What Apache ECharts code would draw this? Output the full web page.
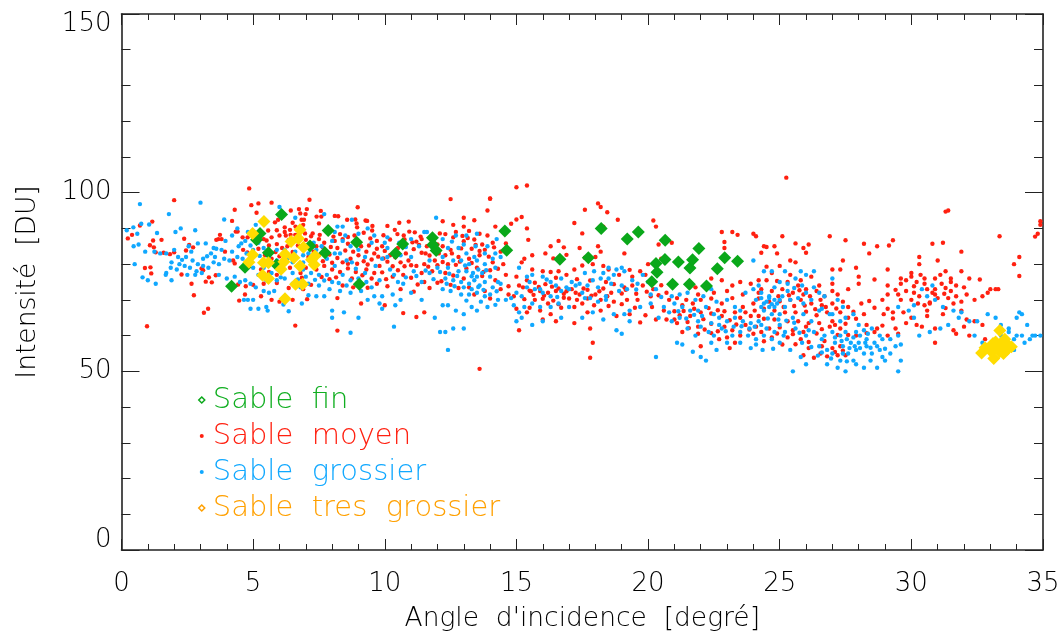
<!DOCTYPE html>
<html><head><meta charset="utf-8">
<script src="https://cdn.jsdelivr.net/npm/echarts@6/dist/echarts.min.js"></script>
<style>html,body{margin:0;padding:0;background:#fff}#c{width:1064px;height:632px}</style></head>
<body><div id="c"></div>
<script>
const sableFin=[[6.08,93.9],[7.85,89.4],[5.26,88.6],[5.13,86.8],[8.93,86.1],[10.68,85.6],[10.41,83.0],[11.81,87.4],[11.83,85.4],[11.95,83.8],[7.16,85.1],[7.73,83.2],[5.58,83.2],[5.89,79.8],[4.69,79.1],[9.03,74.4],[4.18,73.8],[14.56,89.3],[14.63,83.9],[16.65,81.4],[17.73,81.8],[18.22,90.0],[19.21,87],[19.63,89],[20.65,86.7],[20.3,80.2],[20.64,81.3],[20.34,77.7],[20.14,75.1],[21.15,80.6],[20.93,74.4],[21.59,78.9],[21.57,74.4],[21.69,81.2],[21.93,84.4],[22.22,73.9],[22.63,78.7],[22.91,81.8],[23.4,80.8]];
const sableTresGrossier=[[5.41,91.9],[4.98,88.6],[6.78,89.6],[6.72,87.2],[6.44,86.3],[6.91,84.7],[4.98,82.6],[4.84,80.5],[6.21,82.8],[6.17,80.7],[6.55,81.8],[7.35,82.3],[7.22,81.2],[7.32,79.8],[5.39,80.4],[5.58,80.4],[6.78,79.5],[6.06,78.6],[5.36,76.9],[5.58,76],[6.61,74.4],[6.88,74.4],[6.21,70.3],[33.36,61.4],[32.8,56.6],[32.67,55.1],[33.1,57.8],[33.2,58.2],[33.13,53.6],[33.55,59],[33.5,55],[33.8,56.9],[33.25,56.5],[33.1,56],[33.45,57.3],[33.65,56.2],[33.35,55.5],[33.6,57.8],[33.0,55.8]];
const sableMoyen=[[0.24,87.2],[0.4,88.2],[0.7,90.8],[1.17,91.9],[1.2,86.6],[1.52,86.8],[1.08,85.3],[1.23,84.7],[1.3,83.3],[1.6,83.2],[1.84,82.8],[2,83.3],[2.0,97.9],[2.38,87.1],[2.57,85.4],[2.72,84.7],[2.45,83.8],[0.89,78.9],[1.1,79.1],[1.13,77.4],[0.97,62.6],[2.28,77.1],[2.66,74.5],[2.75,71.3],[3.2,75.1],[3.32,76.3],[3.43,74.9],[3.58,76.9],[3.13,66.4],[3.29,67.5],[3.04,78.8],[3.1,78.3],[3.74,88.2],[3.68,87],[3.6,86.8],[3.8,87],[3.93,83.5],[4.24,81],[4.3,80.2],[4.47,69.8],[4.69,71.5],[4.72,73.8],[4.43,74.3],[4.2,92.1],[4.34,89.1],[4.41,89.1],[4.79,87.5],[4.6,87.5],[4.62,84],[4.78,83.3],[4.85,101.2],[4.93,96.5],[5.2,97],[5.7,97.2],[7.14,98],[4.3,95.2],[5.13,94.4],[6.43,95],[6.74,95.4],[7.04,95.4],[6.79,94.2],[6.99,94],[7.57,94.9],[7.41,93.3],[7.59,93.3],[8.1,93.5],[8.23,93.4],[8.97,95.9],[8.57,92.4],[8.88,92.5],[9.27,92.2],[9.33,92.1],[8.93,91.4],[8.95,90.3],[9.53,90.7],[9.52,89.4],[10.1,90.7],[10.55,91.6],[10.91,91.9],[10.38,89.6],[10.48,88.4],[10.72,88],[10.93,89.1],[11.14,88.9],[11.36,87.7],[11.4,87],[11.2,86.3],[12.09,88.6],[11.75,87.7],[5.83,91.7],[5.95,92.4],[6.5,91.6],[6.61,90.5],[6.2,90.3],[6.4,89.6],[6.84,92.4],[6.93,92.4],[6.9,91],[5.57,89.4],[5.51,86.6],[6.2,89],[6.0,88],[6.24,88],[6.42,88.2],[6.6,88.2],[6.97,88.6],[7.26,88.6],[7.53,88.2],[7.79,89.1],[7.5,91.4],[5.4,87],[5.6,85.2],[5.2,84.3],[5.9,85.6],[6.1,84.5],[6.3,85],[7.5,87],[7.7,86],[8.1,86.5],[8.4,87],[8.6,85.7],[8.2,84.5],[8.5,83.8],[8.8,83.5],[9.1,85],[9.4,85.2],[9.7,84.3],[9.9,85],[9.3,83.5],[9.6,83],[10.0,83.7],[10.2,82.5],[10.5,84.5],[10.8,83],[11.1,84.2],[11.4,83.2],[11.6,85],[12.0,85.5],[7.3,83.5],[7.5,82.5],[7.9,82.7],[8.2,81.7],[8.4,80.5],[8.7,81.5],[9.0,82.5],[9.2,80.8],[9.5,81.3],[9.8,79.5],[10.1,80.7],[10.3,79.4],[10.6,80.5],[10.9,81],[11.2,79.5],[11.5,80],[11.9,81],[5.7,81.5],[6.0,82.2],[5.3,78.5],[5.6,77.8],[5.9,77],[6.4,79],[6.8,77.5],[7.0,79],[7.4,78.5],[7.7,79.5],[8.0,78.5],[8.3,77.8],[8.6,78.8],[8.9,77.8],[9.3,78.5],[9.6,77.5],[9.9,77.7],[10.3,76.5],[10.7,77],[11.0,76.2],[11.4,77.5],[11.8,78],[5.0,74.2],[5.4,74.5],[5.9,74.7],[6.35,73.3],[6.9,73],[7.2,74.2],[7.9,75.8],[8.4,74],[8.8,73.5],[9.35,73.4],[9.7,74.5],[10.1,73.8],[10.6,73],[11.1,72.3],[11.5,75],[5.3,71],[5.7,70],[6.0,69.5],[6.5,70],[7.05,70.2],[8.2,70.5],[9.1,69],[10.0,68.5],[10.7,66.3],[11.2,65.2],[11.5,66.5],[6.6,62.8],[8.2,61.4],[12.5,98.2],[13.0,93],[13.4,92.3],[13.9,95],[14.0,98.4],[14.2,90.5],[12.2,92],[12.6,91],[13.0,90.5],[12.7,89],[13.2,89.3],[13.6,88.5],[13.9,88],[12.3,88.4],[12.6,87.5],[13.0,86.4],[13.4,86.9],[13.7,85.5],[14.1,86],[12.2,85],[12.5,84],[12.9,84.4],[13.3,84.3],[13.8,84],[14.6,85.8],[12.3,82.5],[12.8,82],[13.2,81.5],[13.6,82.5],[14.1,80.5],[12.4,80],[12.7,79.8],[13.1,78.8],[13.5,79],[14.0,78.3],[14.5,80],[12.3,77.5],[12.6,76.8],[13.0,76],[13.7,76.7],[14.2,75.5],[12.5,74.2],[13.2,73.5],[13.8,72.5],[14.4,73],[14.7,71.5],[13.6,50.7],[14.6,77],[14.7,73.8],[14.9,71],[15.0,67.5],[15.4,66.5],[15.1,61.5],[15.55,72.4],[15.0,101.5],[15.4,102],[14.0,98.3],[15.0,92.5],[15.2,93.2],[14.8,91.3],[15.4,90],[15.45,86.8],[16.3,85],[16.6,86.5],[16.8,84.7],[17.2,91.5],[17.6,95.2],[17.5,88.6],[18.1,97],[18.2,96],[18.3,90.5],[18.45,94.5],[18.85,92.4],[18.1,85],[18.2,83.5],[19.1,83],[19.3,78.4],[19.7,78],[19.1,73.5],[20.0,80],[20.5,81.5],[20.4,85.5],[20.9,86],[20.2,92.2],[20.3,90.5],[18.5,78.5],[18.0,82],[17.6,81.8],[17.4,84.5],[16.9,82.6],[16.4,81.6],[16.1,83],[15.6,82.5],[15.3,81.5],[15.2,80.5],[15.6,78.5],[16.0,78],[16.3,77.8],[16.6,78],[17.2,78.5],[17.5,79.6],[17.9,80],[18.3,79.5],[15.0,76.5],[15.4,75.5],[15.7,74.8],[16.1,74.4],[16.5,76.2],[16.9,77],[17.3,75.8],[17.8,75.4],[18.4,75],[18.9,77],[19.4,76.5],[19.9,77],[20.4,77.5],[15.1,74],[15.5,72.6],[15.9,72.5],[16.2,72],[16.5,72.5],[16.8,71.7],[17.1,73],[17.4,71.5],[17.7,72.8],[18.0,71.5],[18.3,73.2],[18.6,72],[19.0,71.8],[19.4,74],[19.8,74],[20.2,73],[20.7,72],[15.3,70.2],[15.7,70],[16.0,70.3],[16.4,69.8],[16.8,70.6],[17.3,70],[17.7,70.4],[18.2,70],[18.7,69.5],[19.2,70],[19.6,70],[20.1,71],[20.4,71.3],[15.5,67.8],[15.9,67],[16.3,66],[16.7,67.8],[17.2,68],[17.7,66.5],[18.2,67],[18.8,65.5],[19.3,66],[19.9,65.7],[20.3,64.5],[16.0,64.5],[16.5,64],[17.2,63.5],[17.8,62],[17.9,58],[17.8,53.8],[19.7,63.7],[20.7,64.5],[21.0,66.8],[21.3,68.5],[21.7,69],[22.0,70],[22.4,70.4],[22.8,69],[23.2,70.5],[23.6,68],[24.0,69],[21.2,65.7],[21.6,65.5],[22.0,66.5],[22.4,66.2],[22.8,65.5],[23.1,64.3],[23.5,65],[23.9,65.5],[24.2,65.5],[21.1,63.5],[21.5,63.8],[21.9,62.5],[22.4,63.3],[22.9,62.5],[23.2,61.5],[23.7,63],[24.1,62.5],[21.3,61],[21.9,60.5],[22.4,60.7],[23.0,59.5],[23.5,60],[24.0,60.5],[22.0,57],[23.1,56.5],[21.8,73.5],[22.4,76],[22.8,75.5],[23.2,74],[23.5,75],[23.9,74.5],[24.2,75.5],[21.9,71.5],[22.5,72],[23.0,72.5],[23.6,71.5],[24.2,72],[22.8,89],[23.2,89],[23.4,88.2],[22.9,86.2],[22.9,84.5],[24.0,88.5],[24.4,85],[24.5,79.3],[25.25,104.2],[24.1,87.8],[25.1,87.8],[24.5,84.8],[24.8,85],[25.6,85.8],[26.1,85.5],[24.3,83.2],[24.9,83],[25.9,84.5],[26.0,83.2],[25.4,81],[25.6,80.5],[25.0,79.5],[24.7,77.5],[25.4,77],[25.8,75.5],[26.2,76.5],[24.5,75.5],[24.9,75.3],[25.3,75],[25.7,74],[26.0,73],[26.5,74],[27.0,74.5],[24.3,73],[24.7,72.5],[25.1,73],[25.5,72],[25.9,71.5],[26.4,72.5],[26.7,71],[27.2,71.5],[24.2,70.4],[24.6,69.5],[25.0,69.6],[25.4,70],[25.8,70],[26.2,69],[26.6,68.5],[27.0,69],[27.4,69.5],[24.4,67.5],[24.8,67],[25.2,66.5],[25.6,66.5],[26.0,66.7],[26.4,65.7],[26.8,66.5],[27.3,66.5],[24.4,64.7],[24.8,64.5],[25.3,64],[25.7,64],[26.1,63.5],[26.5,63.5],[27.0,64],[27.5,63.3],[24.6,62],[25.0,62.3],[25.5,61.5],[25.9,61],[26.4,60.6],[26.9,62.5],[27.3,62],[24.7,59.5],[25.3,59.5],[25.8,59],[26.1,56.5],[25.9,54.5],[26.3,53.8],[26.8,54.2],[27.2,54.5],[27.5,54.5],[27.3,57],[27.0,56.5],[26.6,57],[25.1,57.5],[26.9,87.8],[27.5,86.7],[28.2,85.7],[28.4,83],[28.7,85],[27.4,81],[27.3,78.5],[27.9,79],[27.0,78.5],[28.0,76.5],[28.0,74.5],[27.6,73],[28.6,75.7],[29.1,71.5],[29.4,72.8],[28.9,70],[28.4,69.7],[28.1,69],[27.8,66.7],[27.9,64.7],[28.3,63],[28.7,62],[28.3,60.7],[27.9,60],[27.6,60.2],[27.2,60.2],[29.1,60],[29.5,60.5],[29.8,63.5],[30.2,63],[29.1,67.5],[29.3,66.5],[29.4,62],[30.0,65],[29.3,86.7],[29.15,85.2],[29.1,78.5],[29.6,76],[29.1,74],[29.6,74.5],[30.1,73.8],[30.5,74.5],[30.1,72],[30.3,71],[30.0,70],[29.8,72.5],[30.0,77.5],[30.35,77],[30.0,76.5],[30.9,76],[31.1,77],[31.3,78],[30.5,76],[31.5,76],[31.5,75],[30.9,73],[31.3,73.3],[31.5,72.5],[30.9,71.5],[31.0,70.5],[31.7,71],[31.9,69.5],[30.7,69.3],[30.7,69],[31.3,67.7],[31.2,66],[30.6,67],[30.6,65.5],[30.4,62.5],[30.9,62],[30.8,85.7],[30.3,82],[30.3,80],[31.0,81],[31.2,86],[31.3,94.7],[31.4,95],[31.9,83.5],[31.9,78],[32.2,76],[32.6,75.7],[32.9,72],[33.0,73],[32.7,71],[33.3,73],[32.4,70],[31.4,70.5],[31.9,67],[32.1,64.5],[32.4,64],[33.2,73],[32.2,60],[31.7,60.5],[31.6,61.5],[32.0,62.5],[32.7,63],[32.8,59],[33.1,54.5],[33.35,87.8],[34.1,76.7],[34.7,87.7],[34.9,91],[34.8,88.5],[34.9,92],[33.9,80],[34.1,82],[30.9,58],
[5.7,87.5],[5.9,89.5],[6.35,86.7],[6.7,85.2],[7.0,86.8],[7.2,87.8],[7.4,85],[7.65,84.7],[7.95,84.8],[8.05,87.7],[8.3,88.4],[8.6,87.6],[8.85,88],[9.2,88.8],[9.45,87.2],[9.7,86.5],[9.95,88.1],[10.2,86.9],[10.75,86.9],[11.05,86.1],[11.3,85.4],[11.55,83],[11.7,82.4],[12.05,83],[5.85,83.4],[6.5,83.4],[7.1,82],[7.65,80.8],[8.0,80.4],[8.6,80.1],[8.95,80.1],[9.35,79.9],[9.75,82.1],[9.95,81.6],[10.4,81.9],[10.75,79.4],[11.0,79.7],[11.65,79.3],[12.0,79.7],[5.45,82.5],[6.85,76.2],[7.6,76.4],[8.15,76.3],[8.75,76],[9.15,76.9],[9.5,76],[10.05,75.8],[10.5,78.3],[11.25,74.3],[11.7,73.3],[12.0,74.8],[12.2,80.6],[12.55,83],[12.95,87.9],[13.15,87.3],[13.45,85.4],[13.6,83.7],[13.95,82.1],[14.15,84.7],[12.85,80.7],[13.3,80.3],[13.75,77.8],[14.3,78.7],[14.4,83.5],[12.15,75.2],[12.8,73.3],[13.4,71.5],[14.0,70.4],[15.25,73.5],[15.65,71.4],[15.85,73.6],[16.05,71.2],[16.35,73.7],[16.6,73.2],[16.9,72.4],[17.0,70.4],[17.25,72],[17.55,73.2],[17.85,71.2],[18.15,72.4],[18.45,71],[18.7,74.4],[19.15,72.8],[19.55,71.7],[19.95,72.3],[20.5,74.1],[20.8,70],[21.1,70.5],[21.45,70],[16.2,69],[16.6,68.8],[17.5,69],[17.95,68.5],[18.5,68.3],[19.0,68.8],[19.5,67.8],[20.15,68],[20.6,67],[21.0,64.5],[21.35,66.9],[21.75,67.5],[22.1,64.6],[22.3,67.7],[22.65,67.1],[22.9,66.8],[23.3,66.5],[23.7,66.5],[24.05,67],[21.55,62.1],[22.15,61.7],[22.65,61.2],[23.35,63.1],[23.85,61.7],[24.3,61],[22.7,59],[23.3,58],[24.4,58.4],[24.9,60.6],[25.5,60.4],[26.0,62.5],[26.6,61.8],[27.1,63],[27.6,65],[28.2,66],[25.15,68],[25.55,68.3],[25.95,68.4],[26.35,67.4],[26.75,68],[27.15,67.6],[27.6,68],[24.95,71],[25.35,71.3],[25.75,72.7],[26.15,71],[26.55,70],[27.0,72.5],[26.7,58.5],[27.1,55.4],[27.4,55.8],[26.55,55],[26.1,58.2],[25.6,57.6],[28.6,61],[28.9,62.8],[29.3,64.8],[29.7,66.5],[29.5,71.5],[29.8,75.5],[30.2,75],[30.6,73],[30.8,72],[31.15,74.5],[31.7,74],[32.0,73.5],[31.25,71.7],[30.25,69],[30.5,68.5],[31.6,69],[32.1,71.5],[29.6,70],[28.6,67.8],[28.95,66]];
const sableGrossier=[[0.2,89.5],[0.45,90.3],[0.75,91.3],[1.05,91.1],[0.6,88.5],[0.65,85.5],[1.35,88.7],[0.46,85],[0.9,83.5],[1.25,83.5],[0.5,80],[0.7,96.8],[1.8,94],[2.05,89],[2.25,90],[2.8,89.5],[3.0,97.2],[3.9,92.5],[1.47,83],[1.7,83],[2.0,84],[2.15,82],[2.55,85],[2.65,83.5],[2.9,85.8],[3.2,85.8],[3.5,84.5],[2.45,82],[2.7,81],[2.9,80],[3.1,81.5],[3.4,83],[3.6,84.3],[3.8,84],[3.95,86.5],[4.2,88],[4.4,90],[4.45,85],[4.55,85.8],[1.9,80.5],[2.4,79.5],[2.6,79],[2.85,78],[3.1,79.5],[3.3,79],[3.5,80.5],[3.7,80],[3.9,81.5],[4.1,81],[4.4,82],[4.6,81.5],[1.7,77.5],[1.87,79],[0.8,76.3],[1.0,75.5],[1.3,74.5],[1.68,77],[1.9,75.5],[2.1,78.5],[2.5,77],[2.8,77],[3.05,77.5],[3.7,77],[4.0,76],[4.3,76.5],[4.5,75],[4.7,75.5],[4.9,74.5],[4.65,70],[4.8,70],[5.0,70],[5.5,68],[5.55,67],[4.9,67.5],[5.2,67.5],[5.6,72],[5.1,73.5],[5.4,72.5],[5.8,72.5],[6.15,68.7],[6.35,66.8],[6.85,69],[7.1,71.3],[7.4,71],[7.7,71],[8.0,67],[8.0,65],[8.45,66.5],[8.7,60.8],[9.0,65],[9.35,70],[9.6,71],[9.9,67.5],[9.8,69],[10.35,62.5],[10.4,68.5],[10.6,70],[11.0,72],[11.4,70],[11.9,65],[12.1,61],[5.0,84],[5.2,86],[4.7,86.5],[4.8,89],[5.1,91],[6.0,96],[6.6,93],[7.7,94],[8.2,90.5],[8.4,90.5],[8.75,92.4],[8.1,89],[8.5,88],[9.0,88.5],[9.35,90],[9.6,88],[10.1,87.5],[10.55,86],[11.0,87],[11.5,89],[11.6,89],[11.95,93],[5.4,84.5],[5.9,84],[6.2,84],[6.6,83.5],[6.9,82.5],[7.3,86],[7.6,85],[7.7,84],[8.0,86.5],[8.4,86.5],[8.7,85],[9.0,84],[10.0,86],[10.1,84.5],[5.6,82],[5.9,81],[6.3,81.5],[6.5,80.5],[6.9,80.5],[7.1,83],[7.4,84],[7.8,81.5],[8.1,83],[8.3,83],[8.55,81],[8.75,80.5],[9.9,81.5],[10.1,82],[10.6,82.5],[11.0,82],[11.3,85],[11.7,81],[5.0,79],[5.4,79],[5.7,77.5],[6.1,79],[6.5,77.5],[6.9,78.5],[7.2,77.5],[7.5,77],[7.8,77],[8.1,79.5],[8.4,77],[8.7,75.5],[9.0,76],[9.3,75],[9.5,73.5],[9.8,75.5],[10.2,78.5],[10.5,75],[10.7,74.5],[11.1,78],[11.4,75],[11.7,77.5],[12.0,79],[5.2,77],[5.5,75.5],[5.9,75.5],[6.2,76],[6.5,74.5],[6.8,73.5],[7.1,74.5],[7.5,74],[7.9,73],[8.3,72.5],[8.7,72],[9.1,72.5],[9.9,71],[10.3,71.5],[12.2,87],[12.7,88],[13.1,88],[13.5,88.5],[13.9,85],[14.25,87],[12.4,84.5],[12.8,84.5],[13.1,83],[13.4,82],[13.8,83],[14.2,83],[12.2,82],[12.6,81],[12.9,81],[13.2,80],[13.5,81],[13.8,80],[14.1,81.5],[14.4,82],[12.4,79],[12.8,78],[13.1,78],[13.35,77.5],[13.5,76.5],[13.7,77.5],[14.0,76.5],[14.3,75],[12.3,76],[12.6,75.5],[12.9,75],[13.2,74.5],[13.4,75.5],[13.6,74],[13.8,75],[14.1,73.5],[14.4,74.5],[12.2,73],[12.5,72.5],[12.9,71.5],[13.2,71.5],[13.5,72],[13.8,71],[14.0,71.5],[14.3,70],[14.6,70],[12.2,68.5],[12.4,68.5],[12.7,67],[13.0,66],[13.3,68],[13.5,67],[13.9,68],[12.6,62],[13.0,62],[12.3,61],[12.4,56],[14.8,70.5],[15.0,72],[15.2,71],[15.4,73.5],[15.7,73],[15.9,73],[16.0,72],[16.3,71],[16.5,74],[16.7,72.5],[16.9,73.5],[17.1,75],[17.4,74.5],[17.7,74],[17.9,75.5],[18.2,76],[18.5,76],[18.7,77],[19.0,74],[19.2,73],[19.4,75.5],[19.6,74.5],[19.8,77],[20.0,75],[20.3,73],[15.1,79],[15.4,76.5],[15.5,75],[15.6,77],[16.0,76.5],[16.3,75],[16.7,76],[17.0,73],[17.5,72],[17.6,70.5],[17.8,70.5],[18.1,73.5],[18.4,71],[18.5,79],[18.8,78.5],[19.0,79],[19.1,78],[18.4,70],[18.1,69.5],[14.9,68.5],[15.1,66.5],[15.3,68],[15.6,69],[15.9,68],[16.3,68],[16.6,69],[17.0,68],[17.5,65],[17.9,66.5],[18.3,64.5],[18.7,66],[19.1,66],[19.3,67],[19.7,68],[20.1,69],[15.2,65],[15.0,64],[15.6,63],[16.0,64],[16.7,65],[18.8,61.5],[19.3,64],[19.0,60.5],[20.3,54],[20.4,65],[20.6,68],[20.9,71],[21.2,71.5],[21.5,72],[21.8,70],[22.1,71],[22.4,73],[22.6,69.5],[23.0,70],[23.3,68],[23.5,67],[23.7,72],[24.0,73],[24.2,74],[21.0,69],[21.3,68],[21.6,67],[21.9,67],[22.2,68],[22.5,66],[22.7,65],[23.0,64],[23.3,65],[23.6,64],[23.9,63.5],[24.2,64],[21.2,65],[21.5,62],[21.9,64],[22.0,62.5],[22.3,61],[22.5,60],[22.8,62],[23.2,60],[23.5,61],[23.8,60],[24.1,59],[20.9,64],[21.3,57.5],[21.7,55.5],[22.0,54],[22.2,53],[21.1,58],[21.8,60],[22.4,58],[22.6,56],[23.0,58],[23.5,58],[23.9,56.5],[24.1,57.5],[24.4,69],[24.3,72],[24.6,71],[24.8,70],[24.1,70],[24.3,70.5],[24.4,67],[24.6,68],[24.8,68],[25.0,70],[25.2,68],[25.4,70],[25.7,70.5],[25.9,69],[26.2,70],[26.5,72],[25.0,75],[25.3,74.5],[25.6,76],[25.8,78],[26.0,77],[26.3,78],[24.7,78],[25.2,78],[24.4,78],[24.0,81],[24.8,73.5],[26.7,71],[27.0,76],[27.2,70],[27.4,68],[27.8,66],[28.0,63],[27.5,65],[27.0,66],[26.5,67],[26.2,64],[25.9,66],[25.5,65],[25.0,66],[24.7,66],[24.3,63],[25.0,63],[24.8,61],[25.2,61],[25.6,62],[26.0,60],[26.3,61],[26.7,60],[27.0,61],[27.3,60],[27.5,61],[27.9,61],[28.2,61.5],[28.5,62],[28.8,60],[24.4,60],[24.7,59],[25.0,58],[25.4,56],[25.8,54],[25.5,50],[26.0,52],[26.5,57],[26.8,56],[27.1,58],[27.4,57],[27.7,58],[28.0,58],[28.3,57],[28.6,58],[28.9,59],[29.2,59],[29.5,60],[27.0,55],[27.3,53],[27.6,55],[27.9,56],[28.2,55],[28.5,55],[28.9,54],[29.2,55],[29.6,53],[26.8,52],[27.2,51],[27.5,50],[27.9,52],[28.2,51],[28.7,51],[29.0,53],[29.5,50],[27.8,53],[26.6,59],[28.3,59],[28.8,56],[29.6,57.5],[30.6,71],[30.9,70],[31.2,68],[31.6,67],[31.9,66.5],[31.4,63],[31.1,62],[30.7,61],[30.3,60],[31.8,65],[32.2,64],[32.5,64],[32.9,66],[33.2,65],[32.4,60],[32.7,58],[33.4,63],[33.7,62],[34.0,65],[34.1,66.5],[34.2,66],[34.4,63],[34.6,60],[34.7,60],[34.5,59],[34.9,60],[34.0,60],[33.7,61],[33.9,59],[33.4,60],[34.2,60],[33.9,56],[34.3,58],[30.1,68.5],[30.4,73],[30.8,74],[29.9,67],[30.1,65],[29.5,68],
[2.3,81.2],[2.2,80],[3.25,82.2],[3.55,82],[4.2,83.5],[4.75,83],[4.9,85.2],[5.25,82.3],[5.75,80.2],[6.05,76.3],[6.7,75.7],[7.0,76.5],[7.35,75.6],[7.7,75.4],[8.0,75],[8.25,74.7],[8.55,74],[8.95,74.6],[9.25,77.5],[9.65,79.5],[10.35,77],[10.8,76.3],[11.2,76.7],[11.55,78.2],[11.85,75.8],[12.1,77.8],[12.45,77.3],[12.75,76.7],[13.05,79.6],[13.3,76.6],[13.55,78.5],[13.85,78.3],[14.2,79],[12.35,74.5],[12.65,73.8],[13.0,73.5],[13.3,73],[13.55,73.6],[13.75,72.8],[14.25,72.4],[13.1,69.8],[13.65,69.5],[14.2,68.6],[13.45,85],[12.55,86.3],[13.0,85.5],[10.8,84.8],[9.5,86],[9.25,82],[8.9,78.7],[16.15,75.7],[16.55,70.8],[17.25,74],[17.6,77.5],[17.95,78],[18.3,77.5],[18.6,74.5],[18.9,72.5],[19.55,72.9],[20.1,71.5],[20.5,70.8],[20.8,66.5],[21.15,66.8],[21.45,64.8],[21.75,65.8],[22.05,65.5],[22.4,63.5],[22.7,63],[22.95,61.2],[23.25,62.5],[23.55,62.6],[23.85,62],[24.05,62.5],[24.5,62],[24.55,64.8],[24.95,64.5],[25.25,64.2],[25.55,63.6],[25.75,60.8],[26.1,61.5],[24.3,68],[24.5,69.5],[24.6,70.5],[24.7,68.8],[24.9,69],[25.1,71],[25.3,72.5],[25.55,73.3],[25.85,74],[26.0,72],[26.3,73.5],[26.6,67.5],[26.9,66],[27.3,64],[27.1,59.5],[27.35,58.5],[27.55,59],[27.8,59.5],[28.05,60],[28.35,60.5],[27.65,56.5],[27.85,57],[28.05,56.5],[28.25,58],[28.45,56.6],[28.7,57],[27.4,55],[26.6,55.3],[26.95,53.6],[27.55,52.8],[28.45,53],[29.0,56.3],[29.4,57],[24.35,56],[24.75,56.3],[25.15,60],[25.85,58],[26.2,56.8],[26.45,54.4]];
const names=["Sable fin","Sable moyen","Sable grossier","Sable tres grossier"];
const textColors=["#10ae20","#ff2010","#10a8ff","#ffa000"];
const xLabelText="Angle  d'incidence  [degré]";
const yLabelText="Intensité  [DU]";
const F='"DejaVu Sans"';
const AC='#222';
function xa(extra){return Object.assign({type:'value',min:0,max:35,interval:5,axisLine:{onZero:false,lineStyle:{color:AC,width:1.6}},axisTick:{show:true,inside:true,length:11,lineStyle:{color:AC,width:1}},minorTick:{show:true,splitNumber:5,length:6,lineStyle:{color:AC,width:1}},splitLine:{show:false}},extra);}
function ya(extra){return Object.assign({type:'value',min:0,max:150,interval:50,axisLine:{onZero:false,lineStyle:{color:AC,width:1.6}},axisTick:{show:true,inside:true,length:18,lineStyle:{color:AC,width:1}},minorTick:{show:true,splitNumber:5,length:9,lineStyle:{color:AC,width:1}},splitLine:{show:false}},extra);}
const smallDot='path://M0 0L0 0M10 10L10 10M3 5a2 2 0 1 0 4 0a2 2 0 1 0 -4 0Z';
const smallDiamond='path://M0 0L0 0M10 10L10 10M5 2L8 5L5 8L2 5Z';
const chart=echarts.init(document.getElementById('c'),null,{renderer:'canvas'});
chart.setOption({animation:false,backgroundColor:'#fff',
grid:{left:121.5,right:21,top:14,bottom:82,containLabel:false,outerBoundsMode:'none'},
legend:{show:true,orient:'vertical',left:191,top:380,itemGap:6,itemWidth:10,itemHeight:10,
 formatter:n=>n.replace(/ /g,'  '),
 textStyle:{fontFamily:F,fontWeight:200,fontSize:29,padding:[0,0,0,1],lineHeight:30},
 data:[
 {name:names[0],icon:smallDiamond,itemStyle:{color:'#fff',borderColor:'#0aa81a',borderWidth:1.5},textStyle:{color:textColors[0]}},
 {name:names[1],icon:smallDot,itemStyle:{color:'#ff2010',borderWidth:0},textStyle:{color:textColors[1]}},
 {name:names[2],icon:smallDot,itemStyle:{color:'#10a8ff',borderWidth:0},textStyle:{color:textColors[2]}},
 {name:names[3],icon:smallDiamond,itemStyle:{color:'#fff',borderColor:'#ffa000',borderWidth:1.5},textStyle:{color:textColors[3]}}]},
xAxis:[xa({position:'bottom',name:xLabelText,nameLocation:'middle',nameGap:56,nameTextStyle:{fontFamily:F,fontWeight:200,fontSize:26.5,color:'#000'},axisLabel:{fontFamily:F,fontWeight:200,fontSize:26,color:'#000',margin:21}}),xa({position:'top',axisLabel:{show:false}})],
yAxis:[ya({position:'left',name:yLabelText,nameLocation:'middle',nameGap:80,nameTextStyle:{fontFamily:F,fontWeight:200,fontSize:26.5,color:'#000'},axisLabel:{fontFamily:F,fontWeight:200,fontSize:26,color:'#000',margin:10,lineHeight:20,verticalAlignMinLabel:'bottom',verticalAlignMaxLabel:'top'}}),ya({position:'right',axisLabel:{show:false}})],
series:[
{name:names[1],type:'scatter',data:sableMoyen,symbol:'circle',symbolSize:4.4,itemStyle:{color:'#ff2010',opacity:1},z:2},
{name:names[2],type:'scatter',data:sableGrossier,symbol:'circle',symbolSize:4.4,itemStyle:{color:'#10a8ff',opacity:1},z:3},
{name:names[0],type:'scatter',data:sableFin,symbol:'diamond',symbolSize:13,itemStyle:{color:'#0aa81a',opacity:1},z:4},
{name:names[3],type:'scatter',data:sableTresGrossier,symbol:'diamond',symbolSize:13,itemStyle:{color:'#ffdc00',opacity:1},z:5}
]});
</script></body></html>
